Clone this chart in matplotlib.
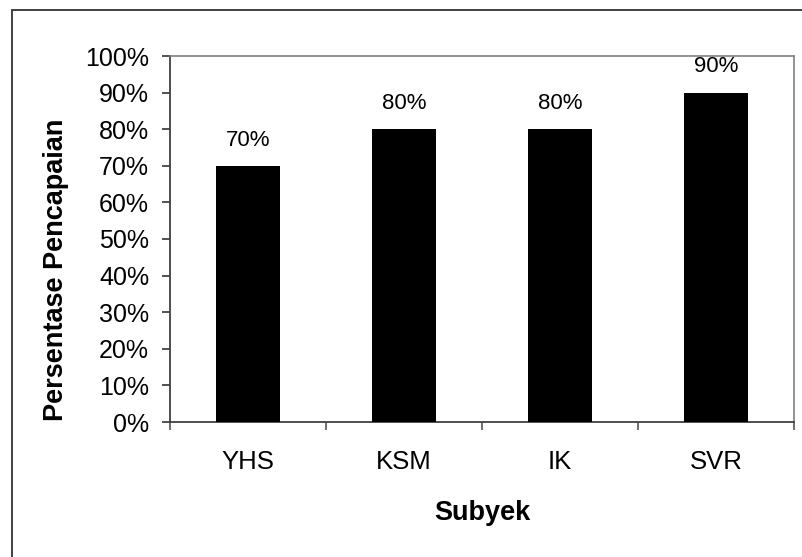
import matplotlib
matplotlib.use("Agg")
import matplotlib.pyplot as plt
from matplotlib.patches import Rectangle
from matplotlib.ticker import FixedLocator, PercentFormatter

plt.rcParams['font.family'] = ['Liberation Sans', 'DejaVu Sans']

subjects = ["YHS", "KSM", "IK", "SVR"]
achievement = [70, 80, 80, 90]
y_ticks = list(range(0, 101, 10))

W, H = 802, 557
fig = plt.figure(figsize=(W / 100, H / 100), dpi=100)
fig.patch.set_facecolor('white')

# outer chart frame
fig.add_artist(Rectangle((12 / W, -0.05), 1.0, 1 - 10 / H + 0.05,
                         transform=fig.transFigure, fill=False,
                         edgecolor='#333333', linewidth=1.3))

ax = fig.add_axes([170 / W, 1 - 422 / H, (794 - 170) / W, (422 - 56) / H])

x = range(len(subjects))
bars = ax.bar(x, achievement, width=0.41, color='black', zorder=3)
for xi, v in zip(x, achievement):
    ax.annotate(f"{v}%", (xi, v), xytext=(0, 14.5), textcoords='offset points',
                ha='center', va='baseline', fontsize=16)

ax.set_xlim(-0.5, len(subjects) - 0.5)
ax.set_ylim(0, 100)
ax.set_yticks(y_ticks)
ax.yaxis.set_major_formatter(PercentFormatter(decimals=0))
ax.set_xticks(list(x))
ax.set_xticklabels(subjects)
ax.xaxis.set_minor_locator(FixedLocator([i - 0.5 for i in range(len(subjects) + 1)]))

ax.tick_params(axis='y', which='major', length=6, width=1.2, color='#333333',
               labelsize=18, pad=9)
ax.tick_params(axis='x', which='major', length=0, labelsize=18.5, pad=20)
ax.tick_params(axis='x', which='minor', length=6, width=1.2, color='#555555')

for side in ('left', 'bottom'):
    ax.spines[side].set_color('#404040')
    ax.spines[side].set_linewidth(1.3)
for side in ('top', 'right'):
    ax.spines[side].set_color('#808080')
    ax.spines[side].set_linewidth(1.2)

fig.text(56 / W, 1 - 270 / H, "Persentase Pencapaian", rotation=90,
         ha='center', va='center', fontsize=19.5, fontweight='bold')
fig.text(482 / W, 1 - 513 / H, "Subyek", ha='center', va='center',
         fontsize=19.5, fontweight='bold')

fig.savefig("out.png", dpi=100)
